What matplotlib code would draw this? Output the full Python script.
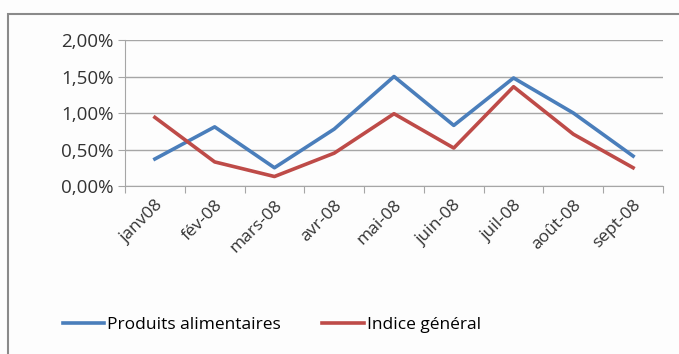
import matplotlib.pyplot as plt
from matplotlib.patches import Rectangle
from matplotlib.ticker import FuncFormatter

months = ['janv08', 'fév-08', 'mars-08', 'avr-08', 'mai-08', 'juin-08',
          'juil-08', 'août-08', 'sept-08']
alimentaires = [0.37, 0.81, 0.25, 0.78, 1.50, 0.83, 1.48, 1.00, 0.41]
general = [0.94, 0.33, 0.13, 0.45, 0.99, 0.52, 1.36, 0.71, 0.25]

plt.rcParams['font.family'] = ['Open Sans', 'DejaVu Sans']

W, H = 679, 354
fig = plt.figure(figsize=(W / 100, H / 100), dpi=100, facecolor='#fdfdfd')
# outer chart frame
fig.patches.append(Rectangle((8 / W, -0.05), 1.0, 1 - 14 / H + 0.05,
                             transform=fig.transFigure, fill=False,
                             edgecolor='#8a8a8a', linewidth=1.5))

ax = fig.add_axes([125 / W, 1 - 186 / H, (663 - 125) / W, (186 - 40) / H])
ax.set_facecolor('#fdfdfd')
x = range(len(months))
ax.plot(x, alimentaires, color='#4a7ebb', linewidth=2.6, label='Produits alimentaires')
ax.plot(x, general, color='#be4b48', linewidth=2.6, label='Indice général')

ax.set_xlim(-0.5, len(months) - 0.5)
ax.set_ylim(0, 2.0)
ax.set_yticks([0, 0.5, 1.0, 1.5, 2.0])
ax.yaxis.set_major_formatter(FuncFormatter(lambda v, p: f'{v:.2f}%'.replace('.', ',')))
ax.grid(axis='y', color='#a6a6a6', linewidth=1)
ax.set_axisbelow(True)

ax.set_xticks([i - 0.5 for i in range(len(months) + 1)], minor=False)
ax.set_xticklabels([])
ax.set_xticks(list(x), minor=True)
ax.set_xticklabels(months, minor=True, rotation=45, ha='right',
                   rotation_mode='anchor', fontsize=12.5, color='#333333')
ax.tick_params(axis='x', which='minor', length=0, pad=8)
ax.tick_params(axis='x', which='major', length=5, color='#a6a6a6')
ax.tick_params(axis='y', length=5, color='#a6a6a6', labelsize=13.5, labelcolor='#333333', pad=3)

for s in ['top', 'right']:
    ax.spines[s].set_visible(False)
ax.spines['left'].set_color('#a6a6a6')
ax.spines['bottom'].set_color('#a6a6a6')

fig.legend(loc='center', bbox_to_anchor=(0.40, 1 - 325 / H), ncol=2, frameon=False,
           fontsize=12.5, handlelength=2.4, handletextpad=0.15, columnspacing=2.4)

fig.savefig('out.png', dpi=100, facecolor=fig.get_facecolor())
